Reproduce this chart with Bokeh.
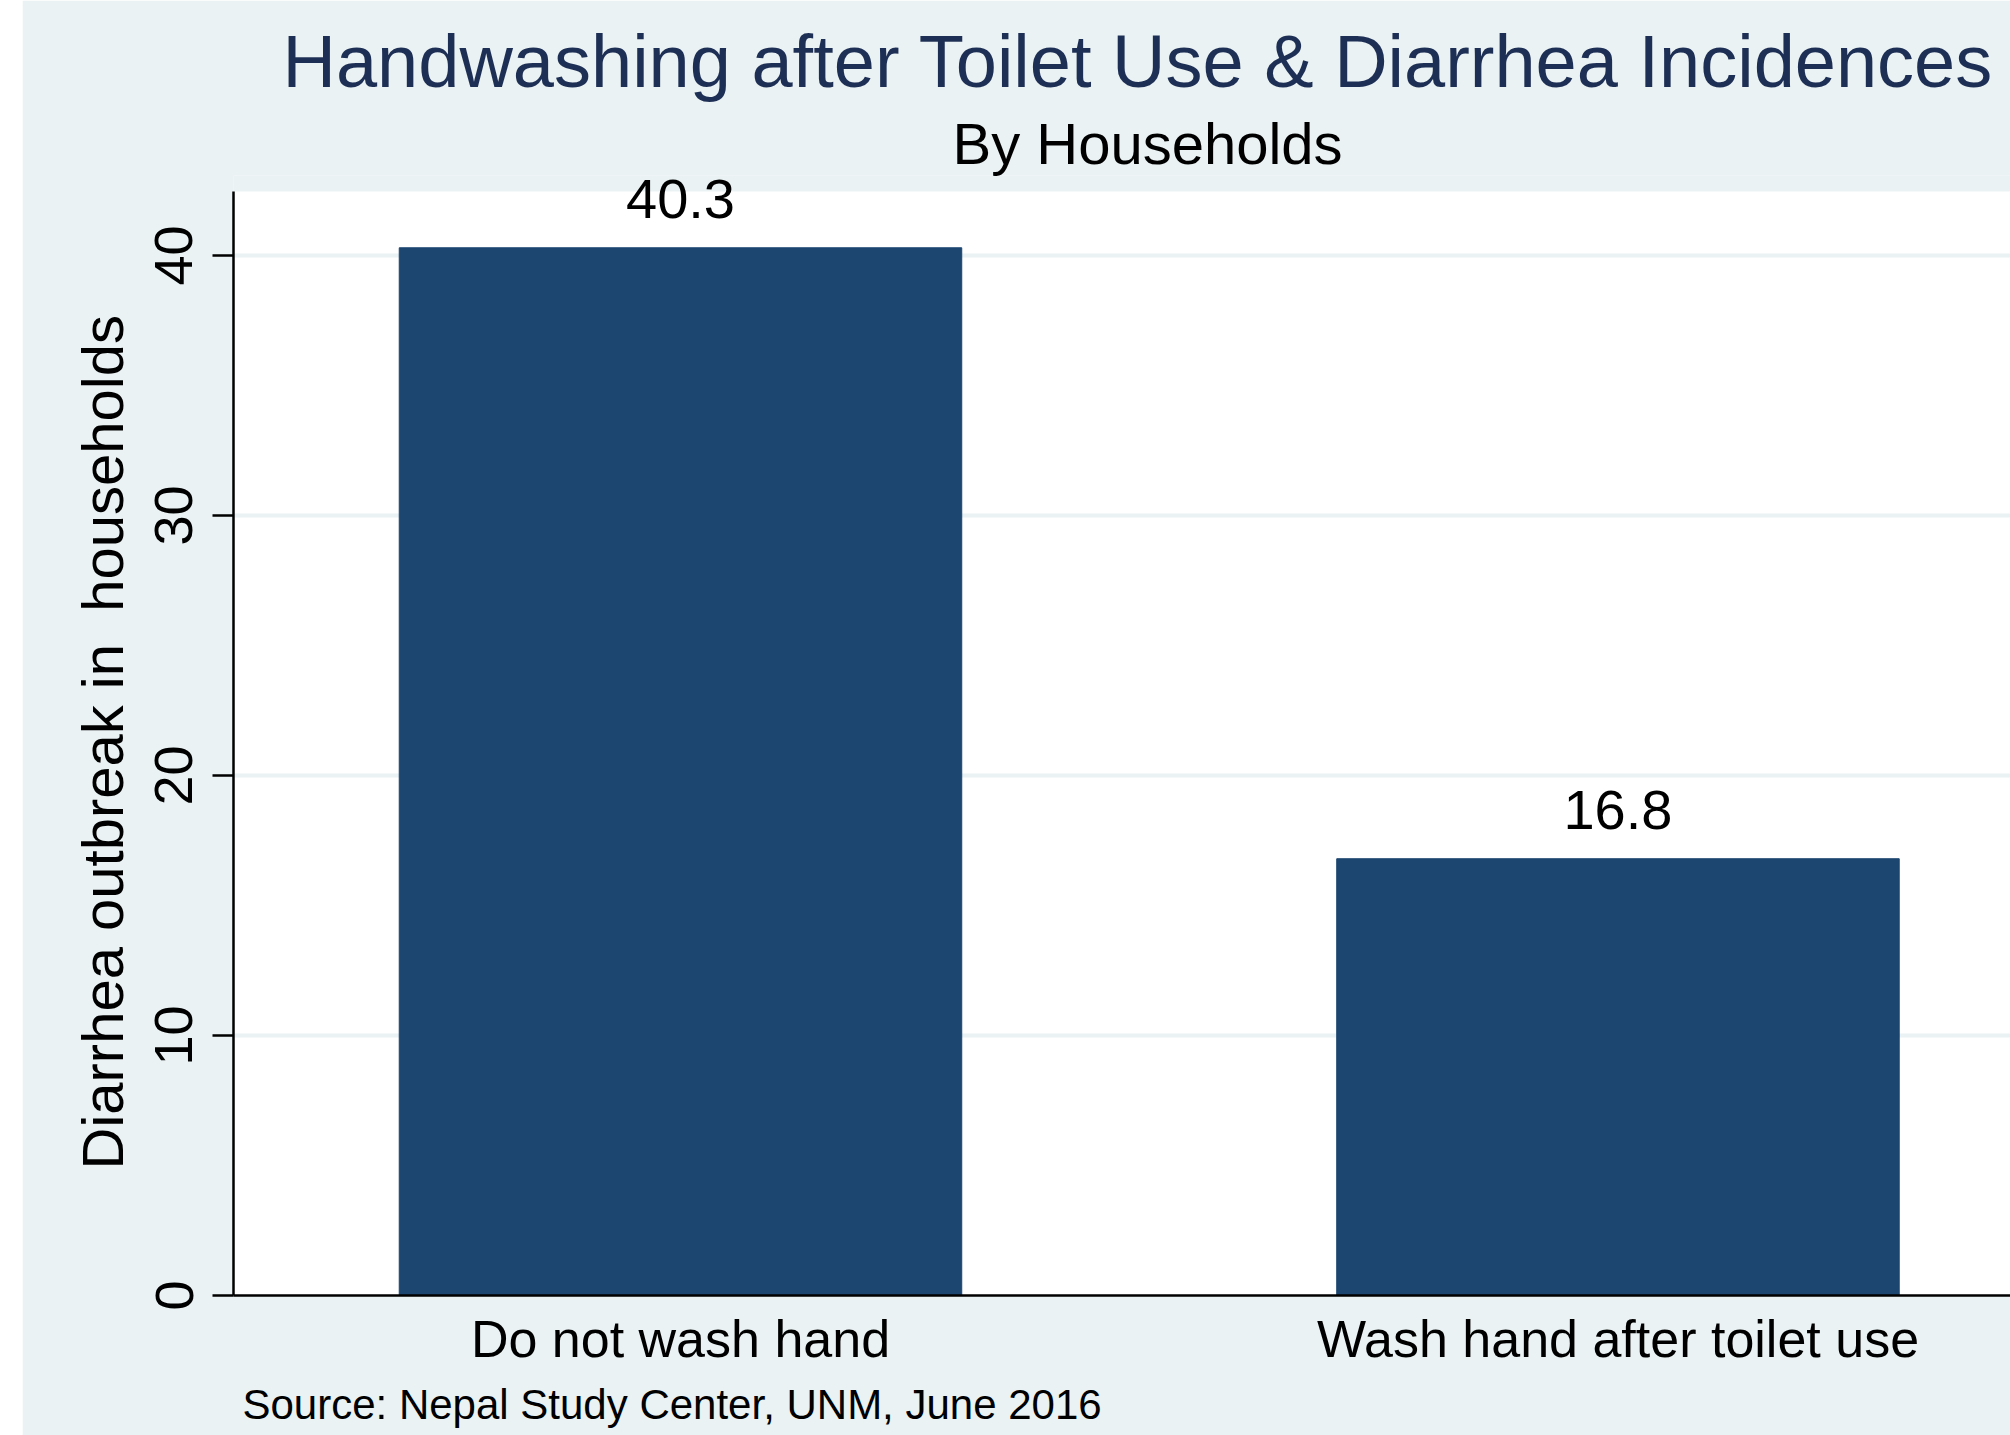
from bokeh.plotting import figure
from bokeh.models import (ColumnDataSource, Range1d, FixedTicker, Title, Spacer,
                          BoxAnnotation)
from bokeh.layouts import row
from bokeh.core.properties import value
from bokeh.embed import file_html
from bokeh.resources import INLINE

# ---- data ----
categories = ["Do not wash hand", "Wash hand after toilet use"]
values = [40.3, 16.8]
y_ticks = [0, 10, 20, 30, 40]
title_text = "Handwashing after Toilet Use & Diarrhea Incidences"
subtitle_text = "By Households"
y_title = "Diarrhea outbreak in\u00a0 households"
source_note = "Source: Nepal Study Center, UNM, June 2016"

FONT = "Liberation Sans"
BG = "#eaf2f3"
BAR = "#1c4670"

Y_PLOT_TOP = 42.46   # top of the white plot region (axis scale)
Y_END = 43.08        # a little headroom so the value label is not clipped

positions = [i + 1 for i in range(len(categories))]
src = ColumnDataSource(dict(
    x=positions,
    top=values,
    label=[f"{v:.1f}" for v in values],
    label_y=[v + 1.88 for v in values],
))

p = figure(width=1988, height=1435,
           x_range=Range1d(0.5232, 2.4187),
           y_range=Range1d(0, Y_END),
           output_backend="svg", toolbar_location=None,
           min_border_left=211, min_border_right=0,
           min_border_top=175, min_border_bottom=140)

p.background_fill_color = BG
p.border_fill_color = BG
p.outline_line_color = None

# white plot region
p.add_layout(BoxAnnotation(top=Y_PLOT_TOP, fill_color="white", fill_alpha=1.0,
                           line_color=None, level="image"))

# bars
p.vbar(x="x", top="top", bottom=0, width=0.6, source=src,
       fill_color=BAR, line_color=BAR, line_width=1)

# value labels
p.text(x="x", y="label_y", text="label", source=src,
       text_font=value(FONT), text_font_size="56px", text_color="black",
       text_align="center", text_baseline="alphabetic")

# grid
p.xgrid.visible = False
p.ygrid.ticker = FixedTicker(ticks=y_ticks)
p.ygrid.grid_line_color = BG
p.ygrid.grid_line_width = 4

# y axis
p.yaxis.ticker = FixedTicker(ticks=y_ticks)
p.yaxis.bounds = (0, Y_PLOT_TOP)
p.yaxis.major_label_text_font = FONT
p.yaxis.major_label_text_font_size = "54px"
p.yaxis.major_label_text_color = "black"
p.yaxis.major_label_orientation = "vertical"
p.yaxis.major_label_standoff = 20
p.yaxis.major_tick_out = 21
p.yaxis.major_tick_in = 0
p.yaxis.major_tick_line_width = 2.5
p.yaxis.major_tick_line_color = "black"
p.yaxis.minor_tick_line_color = None
p.yaxis.axis_line_width = 2.5
p.yaxis.axis_line_color = "black"

# y axis title, centred on the white plot region
p.add_layout(Title(text=y_title, text_font=FONT, text_font_size="58px",
                   text_font_style="normal", text_color="black",
                   align="left", offset=126, standoff=35), "left")

# x axis
p.xaxis.ticker = FixedTicker(ticks=positions)
p.xaxis.major_label_overrides = {pos: c for pos, c in zip(positions, categories)}
p.xaxis.major_label_text_font = FONT
p.xaxis.major_label_text_font_size = "52px"
p.xaxis.major_label_text_color = "black"
p.xaxis.major_label_standoff = 14
p.xaxis.major_tick_out = 0
p.xaxis.major_tick_in = 0
p.xaxis.minor_tick_line_color = None
p.xaxis.axis_line_width = 2.5
p.xaxis.axis_line_color = "black"

# titles (first added 'above' sits nearest the frame)
p.add_layout(Title(text=subtitle_text, text_font=FONT, text_font_size="58px",
                   text_font_style="normal", text_color="black",
                   align="left", offset=719, standoff=0), "above")
p.add_layout(Title(text=title_text, text_font=FONT, text_font_size="74px",
                   text_font_style="normal", text_color="#1e2f55",
                   align="left", offset=49, standoff=11), "above")
p.add_layout(Title(text=source_note, text_font=FONT, text_font_size="42px",
                   text_font_style="normal", text_color="black",
                   align="left", offset=9, standoff=16), "below")

layout = row(Spacer(width=22, height=1435), p)

open("out.html", "w").write(file_html(layout, INLINE))
